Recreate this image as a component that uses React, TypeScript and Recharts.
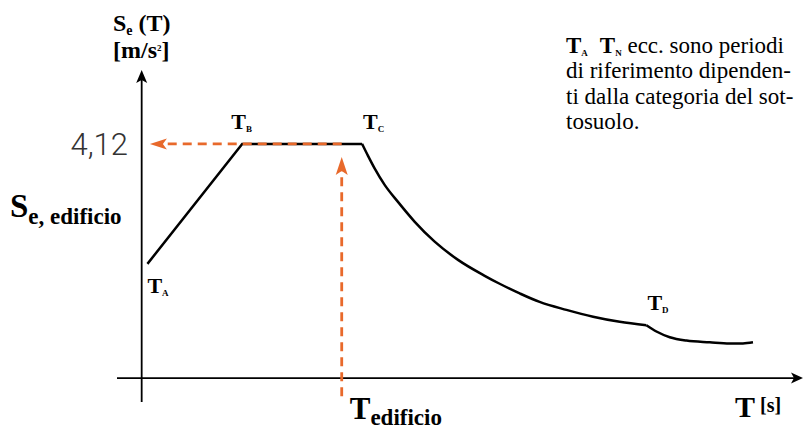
import React from "react";
import {
  LineChart,
  Line,
  XAxis,
  YAxis,
  ReferenceLine,
  ReferenceDot,
} from "recharts";

// Elastic response spectrum Se(T) — curve (T in s, Se in m/s²)
const periods = [
  0.035, 0.611, 1.34, 1.376, 1.416, 1.477, 1.558, 1.66, 1.781, 1.923, 2.085,
  2.176, 2.298, 2.419, 2.582, 2.744, 2.906, 3.068, 3.129, 3.21, 3.312, 3.453,
  3.574, 3.655, 3.716,
];
const accelerations = [
  2.01, 4.12, 4.12, 3.91, 3.69, 3.4, 3.1, 2.75, 2.4, 2.08, 1.8, 1.66, 1.49,
  1.34, 1.2, 1.08, 0.99, 0.93, 0.82, 0.72, 0.66, 0.63, 0.61, 0.61, 0.63,
];

// corner periods T_A .. T_D
const cornerNames = ["A", "B", "C", "D"];
const cornerPeriods = [0.035, 0.611, 1.34, 3.068];
const cornerValues = [2.01, 4.12, 4.12, 0.93];

// building period and its spectral value
const tBuilding = 1.216;
const seBuilding = 4.12;
const seTicks = [seBuilding];
const tTicks = [tBuilding];

const xDomain: [number, number] = [-0.15, 4.02];
const yDomain: [number, number] = [-0.42, 5.42];

const noteLines = [
  "di riferimento dipenden-",
  "ti dalla categoria del sot-",
  "tosuolo.",
];

const ORANGE = "#e8692b";
const SERIF = "'Liberation Serif', 'Times New Roman', serif";
const serif = { fontFamily: SERIF };

// split the curve: straight branch up to T_C, smooth branches after it
const iC = periods.indexOf(cornerPeriods[2]);
const iD = periods.indexOf(cornerPeriods[3]);
const data = periods.map((t, i) => ({
  T: t,
  rise: i <= iC ? accelerations[i] : undefined,
  decay: i >= iC && i <= iD ? accelerations[i] : undefined,
  tail: i >= iD ? accelerations[i] : undefined,
}));

// offsets of the corner labels from their points
const labelOffsets = [
  { dx: 0, dy: 29 },
  { dx: -11, dy: -15 },
  { dx: 1, dy: -15 },
  { dx: 1, dy: -15 },
];

function arrowShape(
  color: string,
  width: number,
  dash: string | undefined,
  headLen: number,
  headHalf: number,
  notch: number
) {
  return (p: any) => {
    const { x1, y1, x2, y2 } = p;
    const dx = x2 - x1;
    const dy = y2 - y1;
    const len = Math.hypot(dx, dy) || 1;
    const ux = dx / len;
    const uy = dy / len;
    const nx = -uy;
    const ny = ux;
    const bx = x2 - ux * headLen;
    const by = y2 - uy * headLen;
    const mx = x2 - ux * (headLen - notch);
    const my = y2 - uy * (headLen - notch);
    const pts = [
      `${x2},${y2}`,
      `${bx + nx * headHalf},${by + ny * headHalf}`,
      `${mx},${my}`,
      `${bx - nx * headHalf},${by - ny * headHalf}`,
    ].join(" ");
    return (
      <g>
        <line
          x1={x1}
          y1={y1}
          x2={mx}
          y2={my}
          stroke={color}
          strokeWidth={width}
          strokeDasharray={dash}
        />
        <polygon points={pts} fill={color} />
      </g>
    );
  };
}

function cornerLabel(name: string, off: { dx: number; dy: number }) {
  return (p: any) => (
    <text
      x={p.cx + off.dx}
      y={p.cy + off.dy}
      style={serif}
      fontWeight="bold"
      fontSize={22}
      fill="#000"
    >
      T
      <tspan fontSize={9} dy={3}>
        {name}
      </tspan>
    </text>
  );
}

const SeTick = (p: any) => (
  <text
    x={p.x + 11}
    y={p.y + 11}
    textAnchor="end"
    style={{ fontFamily: "Roboto, 'Open Sans', sans-serif" }}
    fontWeight={300}
    fontSize={31}
    fill="#333"
  >
    {String(p.payload.value).replace(".", ",")}
  </text>
);

const TTick = (p: any) => (
  <text x={p.x + 8} y={p.y + 17} style={serif} fontWeight="bold" fill="#000">
    <tspan fontSize={31}>T</tspan>
    <tspan fontSize={23} dy={6}>
      edificio
    </tspan>
  </text>
);

const curveProps = {
  stroke: "#000",
  strokeWidth: 2.5,
  dot: false,
  isAnimationActive: false,
};

export default function App() {
  return (
    <div style={{ position: "absolute", left: 0, top: 0, width: 806, height: 430, background: "#fff" }}>
      <LineChart
        width={806}
        height={430}
        data={data}
        margin={{ top: 70, right: 3, bottom: 0, left: 77 }}
      >
        <XAxis
          type="number"
          dataKey="T"
          domain={xDomain}
          allowDataOverflow
          ticks={tTicks}
          interval={0}
          axisLine={false}
          tickLine={false}
          tickSize={0}
          tickMargin={0}
          height={28}
          tick={TTick}
        />
        <YAxis
          type="number"
          domain={yDomain}
          allowDataOverflow
          ticks={seTicks}
          interval={0}
          axisLine={false}
          tickLine={false}
          tickSize={0}
          tickMargin={0}
          width={40}
          tick={SeTick}
        />
        <Line type="linear" dataKey="rise" {...curveProps} />
        <Line type="monotoneX" dataKey="decay" {...curveProps} />
        <Line type="monotoneX" dataKey="tail" {...curveProps} />
        {/* axes with arrowheads */}
        <ReferenceLine
          segment={[{ x: 0, y: yDomain[0] }, { x: 0, y: yDomain[1] }]}
          ifOverflow="visible"
          shape={arrowShape("#000", 1.8, undefined, 13, 5.5, 3)}
        />
        <ReferenceLine
          segment={[{ x: xDomain[0], y: 0 }, { x: xDomain[1], y: 0 }]}
          ifOverflow="visible"
          shape={arrowShape("#000", 1.8, undefined, 12, 5.5, 3)}
        />
        {/* building period -> spectral value */}
        <ReferenceLine
          segment={[{ x: tBuilding, y: seBuilding }, { x: 0.05, y: seBuilding }]}
          ifOverflow="visible"
          shape={arrowShape(ORANGE, 2.8, "9 6", 17, 5.5, 4)}
        />
        <ReferenceLine
          segment={[{ x: tBuilding, y: -0.32 }, { x: tBuilding, y: 3.89 }]}
          ifOverflow="visible"
          shape={arrowShape(ORANGE, 2.8, "9 6", 18, 6, 4)}
        />
        {cornerNames.map((n, i) => (
          <ReferenceDot
            key={n}
            x={cornerPeriods[i]}
            y={cornerValues[i]}
            ifOverflow="visible"
            shape={cornerLabel(n, labelOffsets[i])}
          />
        ))}
      </LineChart>
      <svg
        width={806}
        height={430}
        style={{ position: "absolute", left: 0, top: 0, pointerEvents: "none" }}
      >
        <g fill="#000">
          <text x={113} y={31} style={serif} fontWeight="bold" fontSize={24}>
            S<tspan fontSize={14} dy={4}>e</tspan>
            <tspan dy={-4}> (T)</tspan>
          </text>
          <text x={113} y={58} style={serif} fontWeight="bold" fontSize={24}>
            [m/s<tspan fontSize={9} dy={-7}>2</tspan>
            <tspan dy={7}>]</tspan>
          </text>
          <text x={10} y={217} style={serif} fontWeight="bold" fontSize={33}>
            S<tspan fontSize={23} dy={7}>e, edificio</tspan>
          </text>
          <text x={735} y={417} style={serif} fontWeight="bold" fontSize={30}>
            T<tspan fontSize={20} dx={5} dy={-5}>[s]</tspan>
          </text>
          <text x={566} y={53} style={serif} fontSize={23}>
            <tspan fontWeight="bold">T</tspan>
            <tspan fontWeight="bold" fontSize={9} dy={3}>A</tspan>
            <tspan fontWeight="bold" dx={12} dy={-3}>T</tspan>
            <tspan fontWeight="bold" fontSize={9} dy={3}>N</tspan>
            <tspan dy={-3}> ecc. sono periodi</tspan>
          </text>
          {noteLines.map((l, i) => (
            <text key={i} x={566} y={78 + i * 25.5} style={serif} fontSize={23}>
              {l}
            </text>
          ))}
        </g>
      </svg>
    </div>
  );
}
